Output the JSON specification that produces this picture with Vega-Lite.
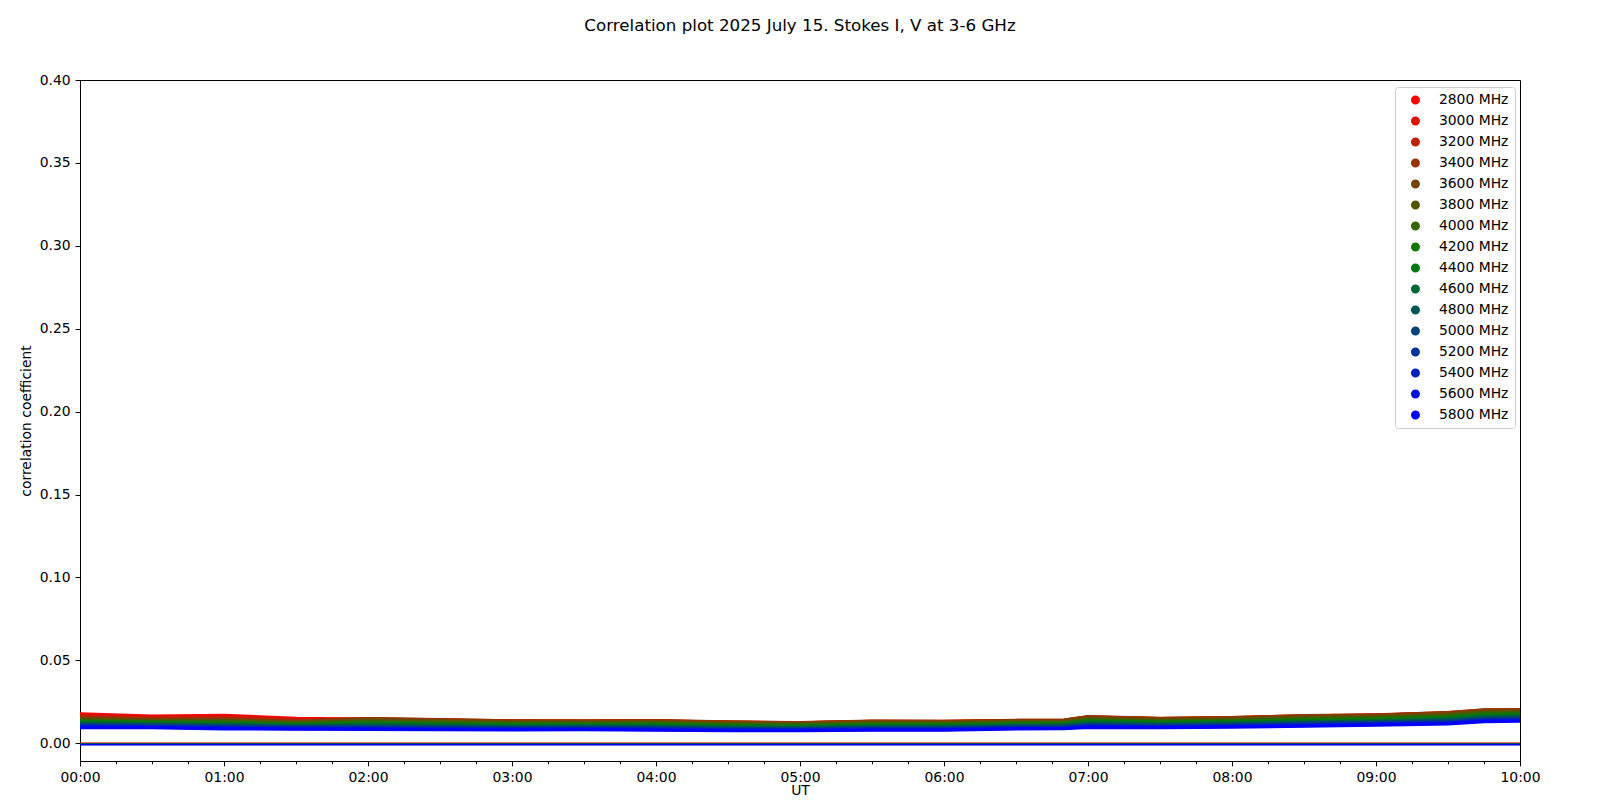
{
"$schema": "https://vega.github.io/schema/vega-lite/v6.json",
"width": 1440, "height": 681,
"autosize": {"type": "none"},
"padding": {"left": 80, "top": 80, "right": 80, "bottom": 39},
"background": "white",
"title": {"text": "Correlation plot 2025 July 15. Stokes I, V at 3-6 GHz", "fontSize": 16.7, "font": "DejaVu Sans", "fontWeight": "normal", "color": "black", "anchor": "middle", "frame": "group", "offset": 38},
"config": {
 "view": {"stroke": "black", "strokeWidth": 1},
 "axis": {"labelFont": "DejaVu Sans", "titleFont": "DejaVu Sans", "labelFontSize": 13.9, "titleFontSize": 13.9, "labelColor": "black", "titleColor": "black", "titleFontWeight": "normal", "domainColor": "black", "tickColor": "black", "grid": false}
},
"resolve": {"axis": {"x": "independent"}},
"datasets": {
"stokesI": [
{"f":2800,"t":"2025-07-15T00:00Z","v":0.0178},{"f":2800,"t":"2025-07-15T00:30Z","v":0.0165},{"f":2800,"t":"2025-07-15T01:00Z","v":0.0169},{"f":2800,"t":"2025-07-15T01:30Z","v":0.0151},{"f":2800,"t":"2025-07-15T02:00Z","v":0.0147},{"f":2800,"t":"2025-07-15T02:30Z","v":0.0140},{"f":2800,"t":"2025-07-15T03:00Z","v":0.0133},{"f":2800,"t":"2025-07-15T03:30Z","v":0.0132},{"f":2800,"t":"2025-07-15T04:00Z","v":0.0134},{"f":2800,"t":"2025-07-15T04:30Z","v":0.0126},{"f":2800,"t":"2025-07-15T05:00Z","v":0.0123},{"f":2800,"t":"2025-07-15T05:30Z","v":0.0131},{"f":2800,"t":"2025-07-15T06:00Z","v":0.0130},{"f":2800,"t":"2025-07-15T06:30Z","v":0.0136},{"f":2800,"t":"2025-07-15T06:50Z","v":0.0138},{"f":2800,"t":"2025-07-15T07:00Z","v":0.0158},{"f":2800,"t":"2025-07-15T07:30Z","v":0.0148},{"f":2800,"t":"2025-07-15T08:00Z","v":0.0153},{"f":2800,"t":"2025-07-15T08:30Z","v":0.0164},{"f":2800,"t":"2025-07-15T09:00Z","v":0.0169},{"f":2800,"t":"2025-07-15T09:30Z","v":0.0183},{"f":2800,"t":"2025-07-15T09:45Z","v":0.0198},{"f":2800,"t":"2025-07-15T10:00Z","v":0.0200},
{"f":3000,"t":"2025-07-15T00:00Z","v":0.0170},{"f":3000,"t":"2025-07-15T00:30Z","v":0.0158},{"f":3000,"t":"2025-07-15T01:00Z","v":0.0161},{"f":3000,"t":"2025-07-15T01:30Z","v":0.0144},{"f":3000,"t":"2025-07-15T02:00Z","v":0.0147},{"f":3000,"t":"2025-07-15T02:30Z","v":0.0141},{"f":3000,"t":"2025-07-15T03:00Z","v":0.0134},{"f":3000,"t":"2025-07-15T03:30Z","v":0.0133},{"f":3000,"t":"2025-07-15T04:00Z","v":0.0135},{"f":3000,"t":"2025-07-15T04:30Z","v":0.0127},{"f":3000,"t":"2025-07-15T05:00Z","v":0.0123},{"f":3000,"t":"2025-07-15T05:30Z","v":0.0132},{"f":3000,"t":"2025-07-15T06:00Z","v":0.0131},{"f":3000,"t":"2025-07-15T06:30Z","v":0.0137},{"f":3000,"t":"2025-07-15T06:50Z","v":0.0139},{"f":3000,"t":"2025-07-15T07:00Z","v":0.0158},{"f":3000,"t":"2025-07-15T07:30Z","v":0.0149},{"f":3000,"t":"2025-07-15T08:00Z","v":0.0154},{"f":3000,"t":"2025-07-15T08:30Z","v":0.0164},{"f":3000,"t":"2025-07-15T09:00Z","v":0.0170},{"f":3000,"t":"2025-07-15T09:30Z","v":0.0183},{"f":3000,"t":"2025-07-15T09:45Z","v":0.0199},{"f":3000,"t":"2025-07-15T10:00Z","v":0.0201},
{"f":3200,"t":"2025-07-15T00:00Z","v":0.0163},{"f":3200,"t":"2025-07-15T00:30Z","v":0.0152},{"f":3200,"t":"2025-07-15T01:00Z","v":0.0154},{"f":3200,"t":"2025-07-15T01:30Z","v":0.0139},{"f":3200,"t":"2025-07-15T02:00Z","v":0.0149},{"f":3200,"t":"2025-07-15T02:30Z","v":0.0142},{"f":3200,"t":"2025-07-15T03:00Z","v":0.0135},{"f":3200,"t":"2025-07-15T03:30Z","v":0.0134},{"f":3200,"t":"2025-07-15T04:00Z","v":0.0136},{"f":3200,"t":"2025-07-15T04:30Z","v":0.0128},{"f":3200,"t":"2025-07-15T05:00Z","v":0.0124},{"f":3200,"t":"2025-07-15T05:30Z","v":0.0133},{"f":3200,"t":"2025-07-15T06:00Z","v":0.0132},{"f":3200,"t":"2025-07-15T06:30Z","v":0.0138},{"f":3200,"t":"2025-07-15T06:50Z","v":0.0140},{"f":3200,"t":"2025-07-15T07:00Z","v":0.0160},{"f":3200,"t":"2025-07-15T07:30Z","v":0.0150},{"f":3200,"t":"2025-07-15T08:00Z","v":0.0155},{"f":3200,"t":"2025-07-15T08:30Z","v":0.0166},{"f":3200,"t":"2025-07-15T09:00Z","v":0.0171},{"f":3200,"t":"2025-07-15T09:30Z","v":0.0185},{"f":3200,"t":"2025-07-15T09:45Z","v":0.0201},{"f":3200,"t":"2025-07-15T10:00Z","v":0.0203},
{"f":3400,"t":"2025-07-15T00:00Z","v":0.0156},{"f":3400,"t":"2025-07-15T00:30Z","v":0.0146},{"f":3400,"t":"2025-07-15T01:00Z","v":0.0147},{"f":3400,"t":"2025-07-15T01:30Z","v":0.0134},{"f":3400,"t":"2025-07-15T02:00Z","v":0.0150},{"f":3400,"t":"2025-07-15T02:30Z","v":0.0143},{"f":3400,"t":"2025-07-15T03:00Z","v":0.0136},{"f":3400,"t":"2025-07-15T03:30Z","v":0.0135},{"f":3400,"t":"2025-07-15T04:00Z","v":0.0137},{"f":3400,"t":"2025-07-15T04:30Z","v":0.0129},{"f":3400,"t":"2025-07-15T05:00Z","v":0.0125},{"f":3400,"t":"2025-07-15T05:30Z","v":0.0134},{"f":3400,"t":"2025-07-15T06:00Z","v":0.0133},{"f":3400,"t":"2025-07-15T06:30Z","v":0.0139},{"f":3400,"t":"2025-07-15T06:50Z","v":0.0141},{"f":3400,"t":"2025-07-15T07:00Z","v":0.0161},{"f":3400,"t":"2025-07-15T07:30Z","v":0.0151},{"f":3400,"t":"2025-07-15T08:00Z","v":0.0156},{"f":3400,"t":"2025-07-15T08:30Z","v":0.0167},{"f":3400,"t":"2025-07-15T09:00Z","v":0.0172},{"f":3400,"t":"2025-07-15T09:30Z","v":0.0186},{"f":3400,"t":"2025-07-15T09:45Z","v":0.0202},{"f":3400,"t":"2025-07-15T10:00Z","v":0.0204},
{"f":3600,"t":"2025-07-15T00:00Z","v":0.0150},{"f":3600,"t":"2025-07-15T00:30Z","v":0.0141},{"f":3600,"t":"2025-07-15T01:00Z","v":0.0142},{"f":3600,"t":"2025-07-15T01:30Z","v":0.0129},{"f":3600,"t":"2025-07-15T02:00Z","v":0.0143},{"f":3600,"t":"2025-07-15T02:30Z","v":0.0137},{"f":3600,"t":"2025-07-15T03:00Z","v":0.0130},{"f":3600,"t":"2025-07-15T03:30Z","v":0.0130},{"f":3600,"t":"2025-07-15T04:00Z","v":0.0131},{"f":3600,"t":"2025-07-15T04:30Z","v":0.0124},{"f":3600,"t":"2025-07-15T05:00Z","v":0.0120},{"f":3600,"t":"2025-07-15T05:30Z","v":0.0129},{"f":3600,"t":"2025-07-15T06:00Z","v":0.0128},{"f":3600,"t":"2025-07-15T06:30Z","v":0.0134},{"f":3600,"t":"2025-07-15T06:50Z","v":0.0136},{"f":3600,"t":"2025-07-15T07:00Z","v":0.0154},{"f":3600,"t":"2025-07-15T07:30Z","v":0.0145},{"f":3600,"t":"2025-07-15T08:00Z","v":0.0150},{"f":3600,"t":"2025-07-15T08:30Z","v":0.0161},{"f":3600,"t":"2025-07-15T09:00Z","v":0.0166},{"f":3600,"t":"2025-07-15T09:30Z","v":0.0179},{"f":3600,"t":"2025-07-15T09:45Z","v":0.0195},{"f":3600,"t":"2025-07-15T10:00Z","v":0.0197},
{"f":3800,"t":"2025-07-15T00:00Z","v":0.0144},{"f":3800,"t":"2025-07-15T00:30Z","v":0.0136},{"f":3800,"t":"2025-07-15T01:00Z","v":0.0136},{"f":3800,"t":"2025-07-15T01:30Z","v":0.0125},{"f":3800,"t":"2025-07-15T02:00Z","v":0.0137},{"f":3800,"t":"2025-07-15T02:30Z","v":0.0131},{"f":3800,"t":"2025-07-15T03:00Z","v":0.0125},{"f":3800,"t":"2025-07-15T03:30Z","v":0.0124},{"f":3800,"t":"2025-07-15T04:00Z","v":0.0125},{"f":3800,"t":"2025-07-15T04:30Z","v":0.0118},{"f":3800,"t":"2025-07-15T05:00Z","v":0.0115},{"f":3800,"t":"2025-07-15T05:30Z","v":0.0123},{"f":3800,"t":"2025-07-15T06:00Z","v":0.0122},{"f":3800,"t":"2025-07-15T06:30Z","v":0.0128},{"f":3800,"t":"2025-07-15T06:50Z","v":0.0130},{"f":3800,"t":"2025-07-15T07:00Z","v":0.0148},{"f":3800,"t":"2025-07-15T07:30Z","v":0.0139},{"f":3800,"t":"2025-07-15T08:00Z","v":0.0144},{"f":3800,"t":"2025-07-15T08:30Z","v":0.0154},{"f":3800,"t":"2025-07-15T09:00Z","v":0.0159},{"f":3800,"t":"2025-07-15T09:30Z","v":0.0172},{"f":3800,"t":"2025-07-15T09:45Z","v":0.0188},{"f":3800,"t":"2025-07-15T10:00Z","v":0.0190},
{"f":4000,"t":"2025-07-15T00:00Z","v":0.0138},{"f":4000,"t":"2025-07-15T00:30Z","v":0.0131},{"f":4000,"t":"2025-07-15T01:00Z","v":0.0130},{"f":4000,"t":"2025-07-15T01:30Z","v":0.0120},{"f":4000,"t":"2025-07-15T02:00Z","v":0.0130},{"f":4000,"t":"2025-07-15T02:30Z","v":0.0124},{"f":4000,"t":"2025-07-15T03:00Z","v":0.0119},{"f":4000,"t":"2025-07-15T03:30Z","v":0.0119},{"f":4000,"t":"2025-07-15T04:00Z","v":0.0120},{"f":4000,"t":"2025-07-15T04:30Z","v":0.0113},{"f":4000,"t":"2025-07-15T05:00Z","v":0.0110},{"f":4000,"t":"2025-07-15T05:30Z","v":0.0117},{"f":4000,"t":"2025-07-15T06:00Z","v":0.0117},{"f":4000,"t":"2025-07-15T06:30Z","v":0.0123},{"f":4000,"t":"2025-07-15T06:50Z","v":0.0125},{"f":4000,"t":"2025-07-15T07:00Z","v":0.0141},{"f":4000,"t":"2025-07-15T07:30Z","v":0.0134},{"f":4000,"t":"2025-07-15T08:00Z","v":0.0138},{"f":4000,"t":"2025-07-15T08:30Z","v":0.0148},{"f":4000,"t":"2025-07-15T09:00Z","v":0.0153},{"f":4000,"t":"2025-07-15T09:30Z","v":0.0165},{"f":4000,"t":"2025-07-15T09:45Z","v":0.0180},{"f":4000,"t":"2025-07-15T10:00Z","v":0.0183},
{"f":4200,"t":"2025-07-15T00:00Z","v":0.0132},{"f":4200,"t":"2025-07-15T00:30Z","v":0.0126},{"f":4200,"t":"2025-07-15T01:00Z","v":0.0124},{"f":4200,"t":"2025-07-15T01:30Z","v":0.0115},{"f":4200,"t":"2025-07-15T02:00Z","v":0.0123},{"f":4200,"t":"2025-07-15T02:30Z","v":0.0118},{"f":4200,"t":"2025-07-15T03:00Z","v":0.0114},{"f":4200,"t":"2025-07-15T03:30Z","v":0.0114},{"f":4200,"t":"2025-07-15T04:00Z","v":0.0114},{"f":4200,"t":"2025-07-15T04:30Z","v":0.0107},{"f":4200,"t":"2025-07-15T05:00Z","v":0.0105},{"f":4200,"t":"2025-07-15T05:30Z","v":0.0112},{"f":4200,"t":"2025-07-15T06:00Z","v":0.0111},{"f":4200,"t":"2025-07-15T06:30Z","v":0.0118},{"f":4200,"t":"2025-07-15T06:50Z","v":0.0119},{"f":4200,"t":"2025-07-15T07:00Z","v":0.0135},{"f":4200,"t":"2025-07-15T07:30Z","v":0.0128},{"f":4200,"t":"2025-07-15T08:00Z","v":0.0132},{"f":4200,"t":"2025-07-15T08:30Z","v":0.0141},{"f":4200,"t":"2025-07-15T09:00Z","v":0.0147},{"f":4200,"t":"2025-07-15T09:30Z","v":0.0158},{"f":4200,"t":"2025-07-15T09:45Z","v":0.0173},{"f":4200,"t":"2025-07-15T10:00Z","v":0.0176},
{"f":4400,"t":"2025-07-15T00:00Z","v":0.0127},{"f":4400,"t":"2025-07-15T00:30Z","v":0.0122},{"f":4400,"t":"2025-07-15T01:00Z","v":0.0119},{"f":4400,"t":"2025-07-15T01:30Z","v":0.0111},{"f":4400,"t":"2025-07-15T02:00Z","v":0.0117},{"f":4400,"t":"2025-07-15T02:30Z","v":0.0113},{"f":4400,"t":"2025-07-15T03:00Z","v":0.0109},{"f":4400,"t":"2025-07-15T03:30Z","v":0.0109},{"f":4400,"t":"2025-07-15T04:00Z","v":0.0109},{"f":4400,"t":"2025-07-15T04:30Z","v":0.0102},{"f":4400,"t":"2025-07-15T05:00Z","v":0.0101},{"f":4400,"t":"2025-07-15T05:30Z","v":0.0107},{"f":4400,"t":"2025-07-15T06:00Z","v":0.0107},{"f":4400,"t":"2025-07-15T06:30Z","v":0.0113},{"f":4400,"t":"2025-07-15T06:50Z","v":0.0115},{"f":4400,"t":"2025-07-15T07:00Z","v":0.0129},{"f":4400,"t":"2025-07-15T07:30Z","v":0.0123},{"f":4400,"t":"2025-07-15T08:00Z","v":0.0127},{"f":4400,"t":"2025-07-15T08:30Z","v":0.0135},{"f":4400,"t":"2025-07-15T09:00Z","v":0.0141},{"f":4400,"t":"2025-07-15T09:30Z","v":0.0152},{"f":4400,"t":"2025-07-15T09:45Z","v":0.0167},{"f":4400,"t":"2025-07-15T10:00Z","v":0.0169},
{"f":4600,"t":"2025-07-15T00:00Z","v":0.0122},{"f":4600,"t":"2025-07-15T00:30Z","v":0.0118},{"f":4600,"t":"2025-07-15T01:00Z","v":0.0114},{"f":4600,"t":"2025-07-15T01:30Z","v":0.0107},{"f":4600,"t":"2025-07-15T02:00Z","v":0.0112},{"f":4600,"t":"2025-07-15T02:30Z","v":0.0108},{"f":4600,"t":"2025-07-15T03:00Z","v":0.0104},{"f":4600,"t":"2025-07-15T03:30Z","v":0.0105},{"f":4600,"t":"2025-07-15T04:00Z","v":0.0104},{"f":4600,"t":"2025-07-15T04:30Z","v":0.0098},{"f":4600,"t":"2025-07-15T05:00Z","v":0.0097},{"f":4600,"t":"2025-07-15T05:30Z","v":0.0103},{"f":4600,"t":"2025-07-15T06:00Z","v":0.0102},{"f":4600,"t":"2025-07-15T06:30Z","v":0.0109},{"f":4600,"t":"2025-07-15T06:50Z","v":0.0110},{"f":4600,"t":"2025-07-15T07:00Z","v":0.0123},{"f":4600,"t":"2025-07-15T07:30Z","v":0.0118},{"f":4600,"t":"2025-07-15T08:00Z","v":0.0122},{"f":4600,"t":"2025-07-15T08:30Z","v":0.0130},{"f":4600,"t":"2025-07-15T09:00Z","v":0.0136},{"f":4600,"t":"2025-07-15T09:30Z","v":0.0146},{"f":4600,"t":"2025-07-15T09:45Z","v":0.0161},{"f":4600,"t":"2025-07-15T10:00Z","v":0.0164},
{"f":4800,"t":"2025-07-15T00:00Z","v":0.0117},{"f":4800,"t":"2025-07-15T00:30Z","v":0.0113},{"f":4800,"t":"2025-07-15T01:00Z","v":0.0109},{"f":4800,"t":"2025-07-15T01:30Z","v":0.0103},{"f":4800,"t":"2025-07-15T02:00Z","v":0.0106},{"f":4800,"t":"2025-07-15T02:30Z","v":0.0103},{"f":4800,"t":"2025-07-15T03:00Z","v":0.0100},{"f":4800,"t":"2025-07-15T03:30Z","v":0.0101},{"f":4800,"t":"2025-07-15T04:00Z","v":0.0099},{"f":4800,"t":"2025-07-15T04:30Z","v":0.0094},{"f":4800,"t":"2025-07-15T05:00Z","v":0.0093},{"f":4800,"t":"2025-07-15T05:30Z","v":0.0098},{"f":4800,"t":"2025-07-15T06:00Z","v":0.0098},{"f":4800,"t":"2025-07-15T06:30Z","v":0.0105},{"f":4800,"t":"2025-07-15T06:50Z","v":0.0106},{"f":4800,"t":"2025-07-15T07:00Z","v":0.0118},{"f":4800,"t":"2025-07-15T07:30Z","v":0.0113},{"f":4800,"t":"2025-07-15T08:00Z","v":0.0118},{"f":4800,"t":"2025-07-15T08:30Z","v":0.0125},{"f":4800,"t":"2025-07-15T09:00Z","v":0.0131},{"f":4800,"t":"2025-07-15T09:30Z","v":0.0141},{"f":4800,"t":"2025-07-15T09:45Z","v":0.0155},{"f":4800,"t":"2025-07-15T10:00Z","v":0.0158},
{"f":5000,"t":"2025-07-15T00:00Z","v":0.0112},{"f":5000,"t":"2025-07-15T00:30Z","v":0.0109},{"f":5000,"t":"2025-07-15T01:00Z","v":0.0104},{"f":5000,"t":"2025-07-15T01:30Z","v":0.0100},{"f":5000,"t":"2025-07-15T02:00Z","v":0.0101},{"f":5000,"t":"2025-07-15T02:30Z","v":0.0098},{"f":5000,"t":"2025-07-15T03:00Z","v":0.0095},{"f":5000,"t":"2025-07-15T03:30Z","v":0.0096},{"f":5000,"t":"2025-07-15T04:00Z","v":0.0095},{"f":5000,"t":"2025-07-15T04:30Z","v":0.0090},{"f":5000,"t":"2025-07-15T05:00Z","v":0.0089},{"f":5000,"t":"2025-07-15T05:30Z","v":0.0094},{"f":5000,"t":"2025-07-15T06:00Z","v":0.0094},{"f":5000,"t":"2025-07-15T06:30Z","v":0.0100},{"f":5000,"t":"2025-07-15T06:50Z","v":0.0102},{"f":5000,"t":"2025-07-15T07:00Z","v":0.0113},{"f":5000,"t":"2025-07-15T07:30Z","v":0.0109},{"f":5000,"t":"2025-07-15T08:00Z","v":0.0113},{"f":5000,"t":"2025-07-15T08:30Z","v":0.0120},{"f":5000,"t":"2025-07-15T09:00Z","v":0.0126},{"f":5000,"t":"2025-07-15T09:30Z","v":0.0135},{"f":5000,"t":"2025-07-15T09:45Z","v":0.0149},{"f":5000,"t":"2025-07-15T10:00Z","v":0.0152},
{"f":5200,"t":"2025-07-15T00:00Z","v":0.0107},{"f":5200,"t":"2025-07-15T00:30Z","v":0.0104},{"f":5200,"t":"2025-07-15T01:00Z","v":0.0099},{"f":5200,"t":"2025-07-15T01:30Z","v":0.0096},{"f":5200,"t":"2025-07-15T02:00Z","v":0.0096},{"f":5200,"t":"2025-07-15T02:30Z","v":0.0093},{"f":5200,"t":"2025-07-15T03:00Z","v":0.0091},{"f":5200,"t":"2025-07-15T03:30Z","v":0.0092},{"f":5200,"t":"2025-07-15T04:00Z","v":0.0090},{"f":5200,"t":"2025-07-15T04:30Z","v":0.0085},{"f":5200,"t":"2025-07-15T05:00Z","v":0.0085},{"f":5200,"t":"2025-07-15T05:30Z","v":0.0089},{"f":5200,"t":"2025-07-15T06:00Z","v":0.0089},{"f":5200,"t":"2025-07-15T06:30Z","v":0.0096},{"f":5200,"t":"2025-07-15T06:50Z","v":0.0097},{"f":5200,"t":"2025-07-15T07:00Z","v":0.0108},{"f":5200,"t":"2025-07-15T07:30Z","v":0.0104},{"f":5200,"t":"2025-07-15T08:00Z","v":0.0108},{"f":5200,"t":"2025-07-15T08:30Z","v":0.0114},{"f":5200,"t":"2025-07-15T09:00Z","v":0.0121},{"f":5200,"t":"2025-07-15T09:30Z","v":0.0129},{"f":5200,"t":"2025-07-15T09:45Z","v":0.0144},{"f":5200,"t":"2025-07-15T10:00Z","v":0.0147},
{"f":5400,"t":"2025-07-15T00:00Z","v":0.0102},{"f":5400,"t":"2025-07-15T00:30Z","v":0.0101},{"f":5400,"t":"2025-07-15T01:00Z","v":0.0095},{"f":5400,"t":"2025-07-15T01:30Z","v":0.0092},{"f":5400,"t":"2025-07-15T02:00Z","v":0.0091},{"f":5400,"t":"2025-07-15T02:30Z","v":0.0088},{"f":5400,"t":"2025-07-15T03:00Z","v":0.0087},{"f":5400,"t":"2025-07-15T03:30Z","v":0.0088},{"f":5400,"t":"2025-07-15T04:00Z","v":0.0086},{"f":5400,"t":"2025-07-15T04:30Z","v":0.0081},{"f":5400,"t":"2025-07-15T05:00Z","v":0.0081},{"f":5400,"t":"2025-07-15T05:30Z","v":0.0086},{"f":5400,"t":"2025-07-15T06:00Z","v":0.0086},{"f":5400,"t":"2025-07-15T06:30Z","v":0.0092},{"f":5400,"t":"2025-07-15T06:50Z","v":0.0094},{"f":5400,"t":"2025-07-15T07:00Z","v":0.0103},{"f":5400,"t":"2025-07-15T07:30Z","v":0.0100},{"f":5400,"t":"2025-07-15T08:00Z","v":0.0104},{"f":5400,"t":"2025-07-15T08:30Z","v":0.0110},{"f":5400,"t":"2025-07-15T09:00Z","v":0.0117},{"f":5400,"t":"2025-07-15T09:30Z","v":0.0124},{"f":5400,"t":"2025-07-15T09:45Z","v":0.0139},{"f":5400,"t":"2025-07-15T10:00Z","v":0.0142},
{"f":5600,"t":"2025-07-15T00:00Z","v":0.0097},{"f":5600,"t":"2025-07-15T00:30Z","v":0.0097},{"f":5600,"t":"2025-07-15T01:00Z","v":0.0090},{"f":5600,"t":"2025-07-15T01:30Z","v":0.0088},{"f":5600,"t":"2025-07-15T02:00Z","v":0.0087},{"f":5600,"t":"2025-07-15T02:30Z","v":0.0085},{"f":5600,"t":"2025-07-15T03:00Z","v":0.0083},{"f":5600,"t":"2025-07-15T03:30Z","v":0.0085},{"f":5600,"t":"2025-07-15T04:00Z","v":0.0082},{"f":5600,"t":"2025-07-15T04:30Z","v":0.0078},{"f":5600,"t":"2025-07-15T05:00Z","v":0.0078},{"f":5600,"t":"2025-07-15T05:30Z","v":0.0082},{"f":5600,"t":"2025-07-15T06:00Z","v":0.0082},{"f":5600,"t":"2025-07-15T06:30Z","v":0.0089},{"f":5600,"t":"2025-07-15T06:50Z","v":0.0090},{"f":5600,"t":"2025-07-15T07:00Z","v":0.0099},{"f":5600,"t":"2025-07-15T07:30Z","v":0.0097},{"f":5600,"t":"2025-07-15T08:00Z","v":0.0101},{"f":5600,"t":"2025-07-15T08:30Z","v":0.0106},{"f":5600,"t":"2025-07-15T09:00Z","v":0.0113},{"f":5600,"t":"2025-07-15T09:30Z","v":0.0120},{"f":5600,"t":"2025-07-15T09:45Z","v":0.0134},{"f":5600,"t":"2025-07-15T10:00Z","v":0.0137},
{"f":5800,"t":"2025-07-15T00:00Z","v":0.0093},{"f":5800,"t":"2025-07-15T00:30Z","v":0.0093},{"f":5800,"t":"2025-07-15T01:00Z","v":0.0086},{"f":5800,"t":"2025-07-15T01:30Z","v":0.0085},{"f":5800,"t":"2025-07-15T02:00Z","v":0.0083},{"f":5800,"t":"2025-07-15T02:30Z","v":0.0081},{"f":5800,"t":"2025-07-15T03:00Z","v":0.0080},{"f":5800,"t":"2025-07-15T03:30Z","v":0.0082},{"f":5800,"t":"2025-07-15T04:00Z","v":0.0079},{"f":5800,"t":"2025-07-15T04:30Z","v":0.0075},{"f":5800,"t":"2025-07-15T05:00Z","v":0.0075},{"f":5800,"t":"2025-07-15T05:30Z","v":0.0079},{"f":5800,"t":"2025-07-15T06:00Z","v":0.0079},{"f":5800,"t":"2025-07-15T06:30Z","v":0.0086},{"f":5800,"t":"2025-07-15T06:50Z","v":0.0087},{"f":5800,"t":"2025-07-15T07:00Z","v":0.0095},{"f":5800,"t":"2025-07-15T07:30Z","v":0.0093},{"f":5800,"t":"2025-07-15T08:00Z","v":0.0097},{"f":5800,"t":"2025-07-15T08:30Z","v":0.0102},{"f":5800,"t":"2025-07-15T09:00Z","v":0.0109},{"f":5800,"t":"2025-07-15T09:30Z","v":0.0116},{"f":5800,"t":"2025-07-15T09:45Z","v":0.0130},{"f":5800,"t":"2025-07-15T10:00Z","v":0.0133}
],
"stokesV": [
{"f":2800,"t":"2025-07-15T00:00Z","v":0.0},{"f":2800,"t":"2025-07-15T10:00Z","v":0.0},
{"f":3000,"t":"2025-07-15T00:00Z","v":-0.00006},{"f":3000,"t":"2025-07-15T10:00Z","v":-0.00006},
{"f":3200,"t":"2025-07-15T00:00Z","v":-0.00012},{"f":3200,"t":"2025-07-15T10:00Z","v":-0.00012},
{"f":3400,"t":"2025-07-15T00:00Z","v":-0.00018},{"f":3400,"t":"2025-07-15T10:00Z","v":-0.00018},
{"f":3600,"t":"2025-07-15T00:00Z","v":-0.00024},{"f":3600,"t":"2025-07-15T10:00Z","v":-0.00024},
{"f":3800,"t":"2025-07-15T00:00Z","v":-0.0003},{"f":3800,"t":"2025-07-15T10:00Z","v":-0.0003},
{"f":4000,"t":"2025-07-15T00:00Z","v":-0.00036},{"f":4000,"t":"2025-07-15T10:00Z","v":-0.00036},
{"f":4200,"t":"2025-07-15T00:00Z","v":-0.00042},{"f":4200,"t":"2025-07-15T10:00Z","v":-0.00042},
{"f":4400,"t":"2025-07-15T00:00Z","v":-0.00048},{"f":4400,"t":"2025-07-15T10:00Z","v":-0.00048},
{"f":4600,"t":"2025-07-15T00:00Z","v":-0.00054},{"f":4600,"t":"2025-07-15T10:00Z","v":-0.00054},
{"f":4800,"t":"2025-07-15T00:00Z","v":-0.0006},{"f":4800,"t":"2025-07-15T10:00Z","v":-0.0006},
{"f":5000,"t":"2025-07-15T00:00Z","v":-0.00066},{"f":5000,"t":"2025-07-15T10:00Z","v":-0.00066},
{"f":5200,"t":"2025-07-15T00:00Z","v":-0.00072},{"f":5200,"t":"2025-07-15T10:00Z","v":-0.00072},
{"f":5400,"t":"2025-07-15T00:00Z","v":-0.00078},{"f":5400,"t":"2025-07-15T10:00Z","v":-0.00078},
{"f":5600,"t":"2025-07-15T00:00Z","v":-0.00084},{"f":5600,"t":"2025-07-15T10:00Z","v":-0.00084},
{"f":5800,"t":"2025-07-15T00:00Z","v":-0.0009},{"f":5800,"t":"2025-07-15T10:00Z","v":-0.0009}
]
},
"layer": [
{
 "data": {"name": "stokesI"},
 "mark": {"type": "line", "strokeWidth": 3},
 "encoding": {
  "x": {"field": "t", "type": "temporal",
   "scale": {"type": "utc", "domain": [{"year": 2025, "month": 7, "date": 15, "hours": 0, "utc": true}, {"year": 2025, "month": 7, "date": 15, "hours": 10, "utc": true}], "nice": false},
   "axis": {"title": "UT", "format": "%H:%M", "tickCount": 10, "orient": "bottom", "labelOverlap": false, "labelFlush": false, "tickSize": 4.9, "labelPadding": 4.9, "titlePadding": -1}},
  "y": {"field": "v", "type": "quantitative",
   "scale": {"domain": [-0.0107, 0.4], "nice": false, "zero": false},
   "axis": {"title": "correlation coefficient", "values": [0, 0.05, 0.1, 0.15, 0.2, 0.25, 0.3, 0.35, 0.4], "format": ".2f", "tickSize": 4.9, "labelPadding": 4.9, "titlePadding": 6}},
  "color": {"field": "f", "type": "nominal",
   "scale": {"domain": [2800, 3000, 3200, 3400, 3600, 3800, 4000, 4200, 4400, 4600, 4800, 5000, 5200, 5400, 5600, 5800],
    "range": ["#ff0000", "#dd1100", "#bb2200", "#993300", "#774400", "#555500", "#336600", "#117700", "#007711", "#006633", "#005555", "#004477", "#003399", "#0022bb", "#0011dd", "#0000ff"]},
   "legend": {"title": null, "orient": "none", "legendX": 1315, "legendY": 7, "symbolType": "circle", "symbolSize": 20, "symbolStrokeWidth": 4.5, "clipHeight": 14, "labelFontSize": 13.9, "labelFont": "DejaVu Sans", "labelColor": "black", "labelExpr": "datum.label + ' MHz'", "padding": 6, "rowPadding": 7, "symbolOffset": 7.5, "labelOffset": 16.5, "fillColor": "rgba(255,255,255,0.8)", "strokeColor": "#cccccc", "cornerRadius": 3}}
 }
},
{
 "data": {"name": "stokesV"},
 "mark": {"type": "line", "strokeWidth": 1.2},
 "encoding": {
  "x": {"field": "t", "type": "temporal",
   "axis": {"orient": "bottom", "title": null, "labels": false, "domain": false, "tickCount": 40, "tickSize": 2.8}},
  "y": {"field": "v", "type": "quantitative"},
  "color": {"field": "f", "type": "nominal"}
 }
}
]
}
